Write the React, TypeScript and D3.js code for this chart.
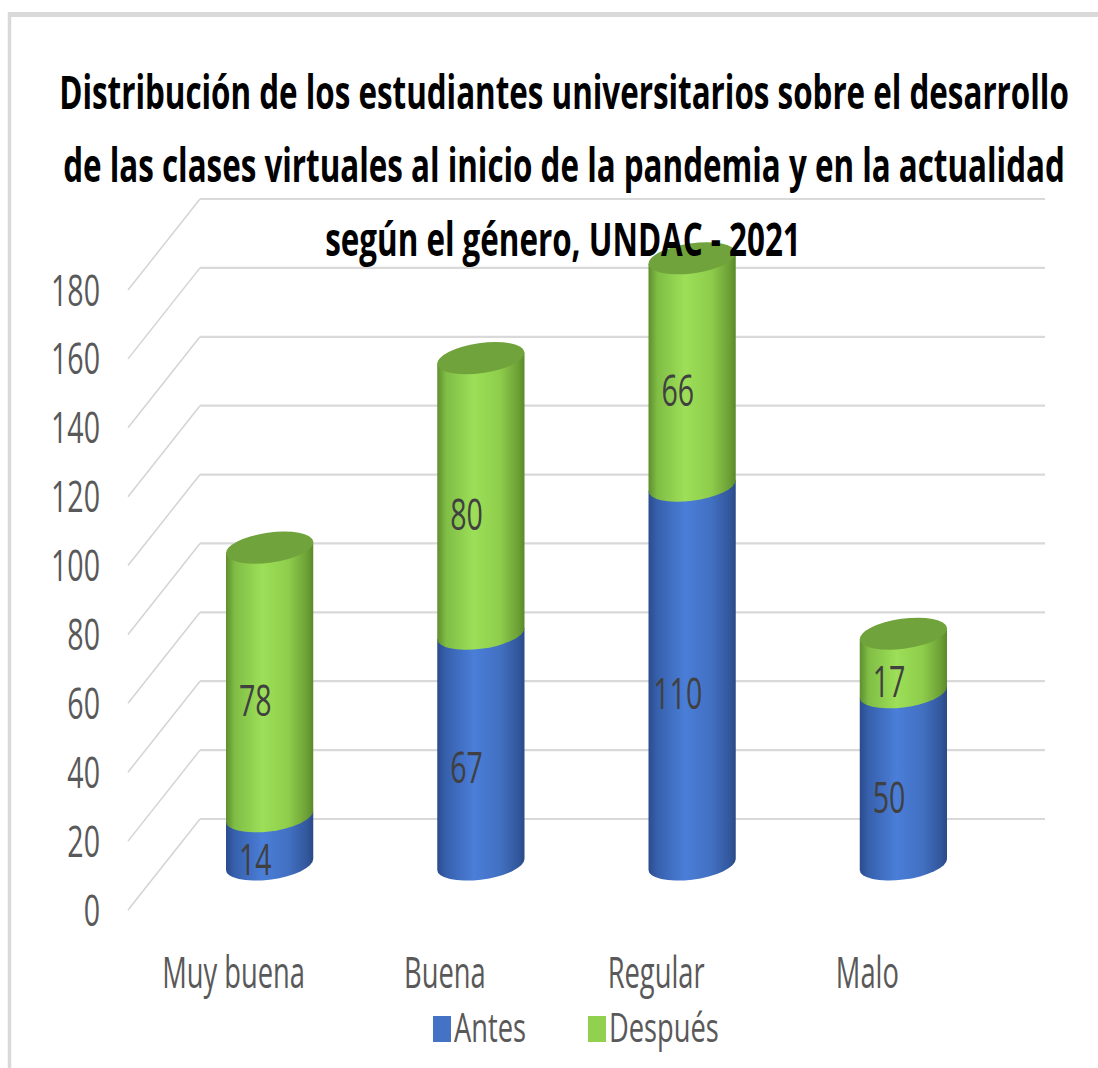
import React, { useRef, useEffect } from 'react';
import * as d3 from 'd3';

// chart data
const categories = ['Muy buena', 'Buena', 'Regular', 'Malo'];
const antes = [14, 67, 110, 50];
const despues = [78, 80, 66, 17];
const seriesNames = ['Antes', 'Después'];
const yTicks = [0, 20, 40, 60, 80, 100, 120, 140, 160, 180];
const titleLines = [
  'Distribución de los estudiantes universitarios sobre el desarrollo',
  'de las clases virtuales al inicio de la pandemia y en la actualidad',
  'según el género, UNDAC - 2021',
];

const W = 1098;
const H = 1068;
const FONT = "'Open Sans', 'Noto Sans', sans-serif";
const DX = 72; // depth offset of the back wall
const DY = -91;
const RX = 44;
const RY = 15;
const TILT = -8;

const App = () => {
  const svgRef = useRef<SVGSVGElement | null>(null);

  useEffect(() => {
    if (!svgRef.current) return;
    const svg = d3.select(svgRef.current);
    svg.selectAll('*').remove();

    const x = d3.scaleBand<string>().domain(categories).range([128, 973]);
    const y = d3.scaleLinear().domain([0, 180]).range([910, 290]);
    const cx = (c: string) => (x(c) as number) + x.bandwidth() / 2;

    // squeeze a group of texts so a reference label gets the wanted width
    const squeeze = (sel: any, refNode: SVGTextElement, target: number) => {
      const len = refNode.getComputedTextLength();
      const sx = target / len;
      sel.attr('transform', function (this: any) {
        const tx = +this.getAttribute('data-x');
        const ty = +this.getAttribute('data-y');
        return `translate(${tx},${ty}) scale(${sx},1)`;
      });
    };

    // frame
    svg.append('line').attr('x1', 8).attr('x2', W).attr('y1', 14.5).attr('y2', 14.5)
      .attr('stroke', '#d9d9d9').attr('stroke-width', 5);
    svg.append('line').attr('x1', 9.5).attr('x2', 9.5).attr('y1', 12).attr('y2', H)
      .attr('stroke', '#d9d9d9').attr('stroke-width', 3.5);

    // gradients
    const defs = svg.append('defs');
    const grad = (id: string, stops: [number, string][]) => {
      const g = defs.append('linearGradient').attr('id', id)
        .attr('x1', 0).attr('x2', 1).attr('y1', 0).attr('y2', 0);
      stops.forEach(([o, c]) => g.append('stop').attr('offset', o).attr('stop-color', c));
    };
    grad('gBlue', [[0, '#2b4c8c'], [0.1, '#3760ad'], [0.42, '#4a7ed8'], [0.72, '#4270c2'], [0.93, '#32579c'], [1, '#2a4a86']]);
    grad('gGreen', [[0, '#5e8e2d'], [0.1, '#7fbd45'], [0.42, '#9ddf58'], [0.72, '#8ecd4b'], [0.93, '#6c9f35'], [1, '#5a8a2a']]);

    // grid: side wall diagonals and back wall lines
    const grid = svg.append('g');
    yTicks.forEach(v => {
      grid.append('line')
        .attr('x1', 128).attr('y1', y(v)).attr('x2', 128 + DX).attr('y2', y(v) + DY)
        .attr('stroke', '#d4d4d4').attr('stroke-width', 1.5);
      grid.append('line')
        .attr('x1', 128 + DX).attr('y1', y(v) + DY).attr('x2', 1045).attr('y2', y(v) + DY)
        .attr('stroke', '#d9d9d9').attr('stroke-width', 2.2);
    });

    // tick labels
    const ticks = svg.append('g').selectAll('text').data(yTicks).enter().append('text')
      .attr('data-x', 100).attr('data-y', d => y(d) + 15.5)
      .attr('text-anchor', 'end').attr('font-family', FONT).attr('font-size', 43)
      .attr('fill', '#595959').text(d => d);
    squeeze(ticks, ticks.nodes()[9] as SVGTextElement, 49);

    // cylinder geometry
    const th = (TILT * Math.PI) / 180;
    const t0 = Math.atan2(-RY * Math.sin(th), RX * Math.cos(th));
    const px = RX * Math.cos(t0) * Math.cos(th) - RY * Math.sin(t0) * Math.sin(th);
    const py = RX * Math.cos(t0) * Math.sin(th) + RY * Math.sin(t0) * Math.cos(th);
    const mid = 0.5;

    const body = (c: string, v0: number, v1: number) => {
      const x0 = cx(c) + DX * mid;
      const yb = y(v0) + DY * mid;
      const yt = y(v1) + DY * mid;
      return `M${x0 - px},${yt - py} L${x0 + px},${yt + py} L${x0 + px},${yb + py} ` +
        `A${RX},${RY} ${TILT} 0 1 ${x0 - px},${yb - py} Z`;
    };

    const bars = svg.append('g');
    categories.forEach((c, i) => {
      const a = antes[i];
      const t = a + despues[i];
      bars.append('path').attr('d', body(c, 0, a)).attr('fill', 'url(#gBlue)');
      bars.append('path').attr('d', body(c, a, t)).attr('fill', 'url(#gGreen)');
      bars.append('ellipse')
        .attr('cx', 0).attr('cy', 0).attr('rx', RX).attr('ry', RY)
        .attr('transform', `translate(${cx(c) + DX * mid},${y(t) + DY * mid}) rotate(${TILT})`)
        .attr('fill', '#71a33c');
    });

    // value labels
    const labelData: { c: string; v: number; m: number }[] = [];
    categories.forEach((c, i) => {
      labelData.push({ c, v: antes[i], m: antes[i] / 2 });
      labelData.push({ c, v: despues[i], m: antes[i] + despues[i] / 2 });
    });
    const lblDepth = 0.3;
    const vals = svg.append('g').selectAll('text').data(labelData).enter().append('text')
      .attr('data-x', d => cx(d.c) + DX * lblDepth)
      .attr('data-y', d => y(d.m) + DY * lblDepth + 16)
      .attr('text-anchor', 'middle').attr('font-family', FONT).attr('font-size', 44)
      .attr('fill', '#404040').text(d => d.v);
    squeeze(vals, vals.nodes()[4] as SVGTextElement, 49);

    // category labels
    const cats = svg.append('g').selectAll('text').data(categories).enter().append('text')
      .attr('data-x', d => cx(d)).attr('data-y', 988)
      .attr('text-anchor', 'middle').attr('font-family', FONT).attr('font-size', 44)
      .attr('fill', '#595959').text(d => d);
    squeeze(cats, cats.nodes()[2] as SVGTextElement, 97);

    // legend
    const legColors = ['#4472c4', '#92d050'];
    const legX = [433, 588];
    const leg = svg.append('g');
    seriesNames.forEach((s, i) => {
      leg.append('rect').attr('x', legX[i]).attr('y', 1016).attr('width', 18).attr('height', 26)
        .attr('fill', legColors[i]);
    });
    const legText = leg.selectAll('text').data(seriesNames).enter().append('text')
      .attr('data-x', (d, i) => legX[i] + 21).attr('data-y', 1042)
      .attr('font-family', FONT).attr('font-size', 40).attr('fill', '#595959').text(d => d);
    squeeze(legText, legText.nodes()[0] as SVGTextElement, 72);

    // title
    const titleY = [109, 182, 256];
    const title = svg.append('g').selectAll('text').data(titleLines).enter().append('text')
      .attr('data-x', (d, i) => (i === 2 ? 563 : 564)).attr('data-y', (d, i) => titleY[i])
      .attr('text-anchor', 'middle').attr('font-family', FONT).attr('font-weight', 700)
      .attr('font-size', 47).attr('fill', '#000').text(d => d);
    squeeze(title, title.nodes()[0] as SVGTextElement, 1010);
  }, []);

  return (
    <div style={{ position: 'absolute', left: 0, top: 0, width: W, height: H, background: '#fff' }}>
      <svg ref={svgRef} width={W} height={H} style={{ display: 'block' }}></svg>
    </div>
  );
};

export default App;
